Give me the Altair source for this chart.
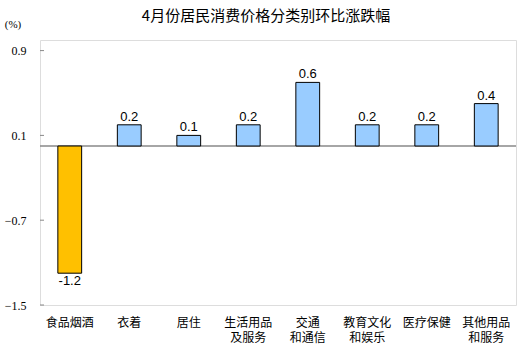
import altair as alt
import pandas as pd

categories = ["食品烟酒", "衣着", "居住", "生活用品|及服务", "交通|和通信", "教育文化|和娱乐", "医疗保健", "其他用品|和服务"]
values = [-1.2, 0.2, 0.1, 0.2, 0.6, 0.2, 0.2, 0.4]
colors = ["#FFC000", "#99CCFF", "#99CCFF", "#99CCFF", "#99CCFF", "#99CCFF", "#99CCFF", "#99CCFF"]
tick_values = [-1.5, -0.7, 0.1, 0.9]
title_text = "4月份居民消费价格分类别环比涨跌幅"
unit_text = "(%)"

line1 = [c.split("|")[0] for c in categories]
line2 = [c.split("|")[1] if "|" in c else "" for c in categories]

df = pd.DataFrame({"cat": categories, "val": values, "color": colors,
                   "lbl": [f"{v:.1f}" for v in values], "l1": line1, "l2": line2})
ticks_df = pd.DataFrame({"t": tick_values})

sans = "Liberation Sans"
serif = "Liberation Serif"
cjk = "Noto Sans CJK SC"
cjk_label = "Liberation Sans, Noto Sans CJK SC"

x_enc = alt.X("cat:N", sort=categories, title=None,
              scale=alt.Scale(paddingInner=0.6, paddingOuter=0.3),
              axis=None)
y_scale = alt.Scale(domain=[-1.5, 1.0], nice=False, zero=False)
x_plain = alt.X("cat:N", sort=categories)

bars = alt.Chart(df).mark_bar(stroke="#000", strokeWidth=1).encode(
    x=x_enc,
    y=alt.Y("val:Q", scale=y_scale, title=None,
            axis=alt.Axis(values=tick_values, ticks=False, grid=False, domain=False,
                          labelFont=serif, labelFontSize=12, labelColor="#000",
                          labelPadding=14, format=".1f")),
    y2=alt.datum(0),
    color=alt.Color("color:N", scale=None),
)

pos_labels = alt.Chart(df).transform_filter("datum.val >= 0").mark_text(
    baseline="alphabetic", dy=-4, font=sans, fontSize=13, color="#000").encode(
    x=x_plain, y=alt.Y("val:Q", scale=y_scale), text="lbl:N")
neg_labels = alt.Chart(df).transform_filter("datum.val < 0").mark_text(
    baseline="top", dy=2, font=sans, fontSize=13, color="#000").encode(
    x=x_plain, y=alt.Y("val:Q", scale=y_scale), text="lbl:N")

xl1 = alt.Chart(df).mark_text(font=cjk_label, fontSize=12, color="#000", baseline="middle").encode(
    x=x_plain, y=alt.value(283), text="l1:N")
xl2 = alt.Chart(df).mark_text(font=cjk_label, fontSize=12, color="#000", baseline="middle").encode(
    x=x_plain, y=alt.value(298), text="l2:N")

unit = alt.Chart(pd.DataFrame({"u": [unit_text]})).mark_text(
    font=serif, fontSize=11, color="#000", align="center", baseline="middle").encode(
    x=alt.value(-27), y=alt.value(-15), text="u:N")

title = alt.Chart(pd.DataFrame({"t": [title_text]})).mark_text(
    font=cjk, fontSize=15, color="#000", align="center", baseline="middle").encode(
    x=alt.value(226), y=alt.value(-24), text="t:N")

zero = alt.Chart(pd.DataFrame({"z": [0]})).mark_rule(color="#888", strokeWidth=1.5).encode(
    y=alt.Y("z:Q", scale=y_scale))

tick_rules = alt.Chart(ticks_df).mark_rule(color="#888").encode(
    y=alt.Y("t:Q", scale=y_scale), x=alt.value(0), x2=alt.value(4))

chart = alt.layer(zero, tick_rules, bars, pos_labels, neg_labels, xl1, xl2, unit, title).properties(
    width=476, height=265,
    autosize=alt.AutoSizeParams(type="none"),
    padding={"left": 40, "top": 40, "right": 8, "bottom": 46},
).configure_view(stroke="#888", strokeWidth=1.5).configure(background="white")

chart.save("out.html", embed_options={"renderer": "svg", "actions": False})
